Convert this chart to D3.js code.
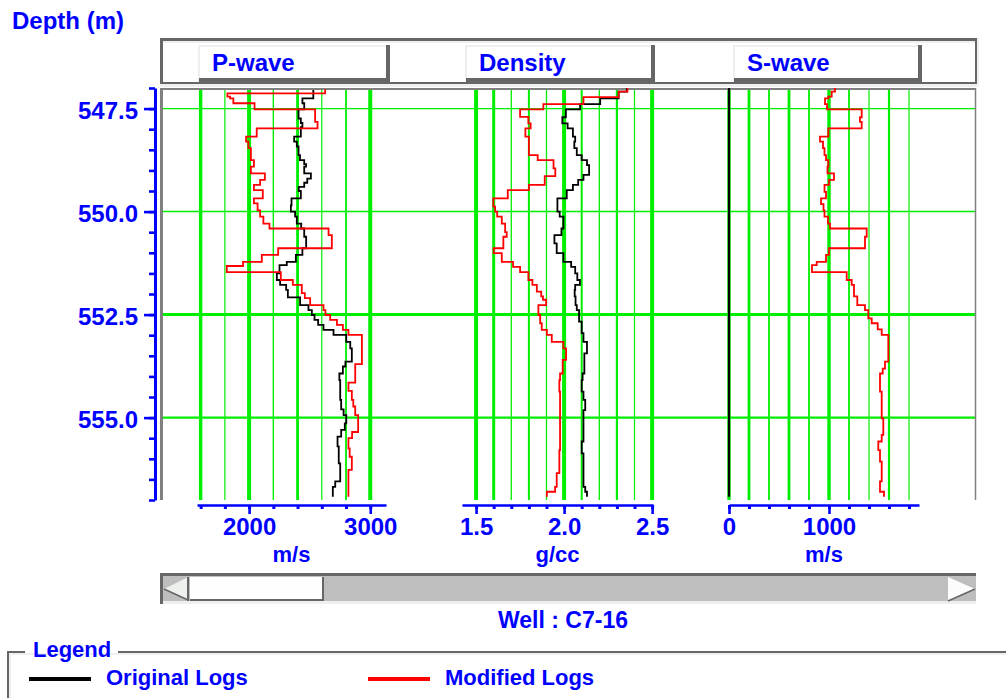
<!DOCTYPE html>
<html>
<head>
<meta charset="utf-8">
<script src="https://cdn.jsdelivr.net/npm/d3@7"></script>
<style>
  html, body { margin: 0; padding: 0; background: #ffffff; overflow: hidden; }
  svg { display: block; }
  text { font-family: "Liberation Sans", Arial, Helvetica, sans-serif; font-weight: bold; fill: #0000ff; }
</style>
</head>
<body>
<svg id="chart" width="1006" height="698"></svg>
<script>
// ---------------- Depth (m) ----------------
const depthExtent = [547.0, 557.0];
const depthTicks = [547.0, 547.5, 548.0, 548.5, 549.0, 549.5, 550.0, 550.5, 551.0, 551.5,
                    552.0, 552.5, 553.0, 553.5, 554.0, 554.5, 555.0, 555.5, 556.0, 556.5, 557.0];
const depthLabels = [547.5, 550.0, 552.5, 555.0];

// ---------------- P-wave velocity (m/s) ----------------
const pwaveExtent = [1570, 3130];
const pwaveTicks = [1600, 1800, 2000, 2200, 2400, 2600, 2800, 3000];
const pwaveLabels = [2000, 3000];
const pwaveOrigDepth = [547.05, 547.25, 547.37, 547.52, 547.74, 547.85, 547.95, 548.18, 548.30, 548.42,
  548.63, 548.75, 548.85, 548.91, 549.07, 549.20, 549.30, 549.40, 549.50, 549.68, 549.85, 550.00,
  550.12, 550.29, 550.41, 550.61, 550.89, 551.05, 551.22, 551.30, 551.50, 551.66, 551.78, 551.90,
  552.08, 552.27, 552.39, 552.51, 552.63, 552.75, 552.87, 552.99, 553.16, 553.32, 553.64, 553.76,
  553.93, 554.09, 554.57, 554.80, 554.94, 555.14, 555.30, 555.46, 555.70, 556.11, 556.55, 556.68, 556.92];
const pwaveOrig = [2530, 2440, 2455, 2408, 2427, 2440, 2427, 2372, 2394, 2408,
  2420, 2455, 2470, 2455, 2510, 2480, 2455, 2410, 2427, 2350, 2345, 2380,
  2394, 2430, 2455, 2471, 2440, 2386, 2311, 2251, 2229, 2256, 2306, 2320,
  2421, 2490, 2518, 2540, 2570, 2614, 2697, 2802, 2835, 2848, 2795, 2774,
  2745, 2752, 2760, 2780, 2802, 2790, 2760, 2730, 2740, 2752, 2711, 2691, 2691];
const pwaveModDepth = [547.03, 547.13, 547.21, 547.25, 547.37, 547.52, 547.82, 547.98, 548.18, 548.30,
  548.46, 548.75, 548.91, 549.07, 549.23, 549.35, 549.48, 549.68, 549.80, 549.97, 550.12, 550.29,
  550.41, 550.57, 550.89, 551.05, 551.22, 551.32, 551.47, 551.66, 551.78, 551.98, 552.10, 552.27,
  552.39, 552.51, 552.63, 552.75, 552.87, 552.99, 553.70, 554.15, 554.35, 554.57, 554.73, 554.94,
  555.35, 555.50, 555.75, 555.95, 556.27, 556.92];
const pwaveMod = [2628, 1821, 1843, 1870, 2045, 2545, 2565, 2063, 1975, 1994,
  2015, 2040, 2015, 2130, 2091, 2040, 2113, 2040, 2070, 2091, 2118, 2168,
  2656, 2683, 2240, 2105, 1950, 1816, 2262, 2361, 2435, 2460, 2504, 2614,
  2630, 2669, 2725, 2774, 2820, 2931, 2876, 2820, 2848, 2860, 2876, 2900,
  2850, 2820, 2830, 2848, 2820, 2820];

// ---------------- Density (g/cc) ----------------
const densityExtent = [1.42, 2.505];
const densityTicks = [1.5, 1.6, 1.7, 1.8, 1.9, 2.0, 2.1, 2.2, 2.3, 2.4, 2.5];
const densityLabels = [1.5, 2.0, 2.5];
const densityOrigDepth = [547.00, 547.09, 547.25, 547.39, 547.52, 547.71, 547.86, 547.98, 548.18, 548.30,
  548.46, 548.63, 548.75, 548.87, 549.11, 549.23, 549.35, 549.48, 549.68, 550.00, 550.12, 550.41,
  550.57, 550.77, 551.01, 551.22, 551.34, 551.50, 551.66, 551.78, 551.90, 552.06, 552.27, 552.39,
  552.67, 552.95, 553.16, 553.44, 553.93, 554.09, 554.37, 554.57, 554.82, 555.58, 555.87, 556.68,
  556.80, 556.92];
const densityOrig = [2.356, 2.31, 2.205, 2.091, 2.01, 1.99, 2.02, 2.05, 2.063, 2.058,
  2.072, 2.10, 2.13, 2.142, 2.11, 2.08, 2.05, 2.015, 1.962, 1.975, 1.996, 1.985,
  1.945, 1.958, 1.996, 2.04, 2.063, 2.075, 2.09, 2.063, 2.06, 2.065, 2.072, 2.085,
  2.10, 2.11, 2.13, 2.115, 2.105, 2.10, 2.11, 2.12, 2.11, 2.10, 2.11, 2.12,
  2.13, 2.13];
const densityModDepth = [547.00, 547.09, 547.22, 547.39, 547.52, 547.70, 547.86, 547.98, 548.18, 548.63,
  548.75, 548.95, 549.14, 549.35, 549.48, 549.68, 549.88, 550.00, 550.12, 550.29, 550.50, 550.61,
  550.89, 551.01, 551.22, 551.34, 551.47, 551.66, 551.78, 551.94, 552.06, 552.14, 552.27, 552.51,
  552.71, 552.87, 552.99, 553.16, 553.32, 553.60, 553.93, 554.09, 554.37, 555.79, 556.35, 556.68,
  556.80, 556.92];
const densityMod = [2.36, 2.31, 2.11, 1.882, 1.75, 1.797, 1.81, 1.78, 1.80, 1.85,
  1.94, 1.95, 1.89, 1.80, 1.68, 1.598, 1.608, 1.62, 1.646, 1.665, 1.674, 1.655,
  1.60, 1.646, 1.71, 1.75, 1.797, 1.82, 1.845, 1.87, 1.88, 1.898, 1.854, 1.864,
  1.873, 1.902, 1.93, 1.996, 2.011, 1.992, 1.977, 1.973, 1.977, 1.973, 1.958, 1.949,
  1.902, 1.902];

// ---------------- S-wave velocity (m/s) ----------------
const swaveExtent = [0, 1900];
const swaveTicks = [0, 200, 400, 600, 800, 1000, 1200, 1400, 1600, 1800];
const swaveLabels = [0, 1000];
const swaveOrigDepth = [547.0, 556.92];
const swaveOrig = [0, 0];
const swaveModDepth = [547.00, 547.09, 547.21, 547.25, 547.39, 547.52, 547.71, 547.82, 547.98, 548.18,
  548.30, 548.46, 548.63, 548.75, 548.91, 549.07, 549.23, 549.35, 549.52, 549.68, 549.82, 549.97,
  550.12, 550.29, 550.41, 550.61, 550.89, 551.05, 551.22, 551.30, 551.47, 551.66, 551.78, 551.90,
  552.06, 552.27, 552.39, 552.59, 552.71, 552.86, 552.99, 553.64, 553.81, 553.93, 554.37, 555.02,
  555.42, 555.58, 555.79, 556.07, 556.55, 556.80, 556.92];
const swaveMod = [1060, 1027, 993, 960, 980, 1327, 1310, 1327, 993, 910,
  940, 955, 970, 993, 985, 1050, 1000, 955, 970, 920, 945, 955,
  990, 1010, 1377, 1360, 1000, 970, 877, 830, 1177, 1227, 1250, 1250,
  1283, 1360, 1393, 1427, 1487, 1527, 1593, 1560, 1537, 1510, 1527, 1543,
  1527, 1493, 1510, 1527, 1510, 1550, 1550];

const wellName = "C7-16";

// ---------------- Drawing ----------------
const BLUE = "#0000ff", GREEN = "#00ee00", DARK = "#666666", LIGHT = "#edf0ed", FRAME = "#808080";
const FONT = "Liberation Sans, Arial, Helvetica, sans-serif";
const svg = d3.select("#chart");

const plot = { left: 160, right: 976, top: 88, bottom: 500 };
const y = d3.scaleLinear().domain(depthExtent).range([plot.top, plot.bottom]);

const tracks = [
  { title: "P-wave", unit: "m/s", extent: pwaveExtent, range: [197, 386], ticks: pwaveTicks,
    labels: pwaveLabels, fmt: d3.format("d"), button: [198, 390],
    orig: [pwaveOrigDepth, pwaveOrig], mod: [pwaveModDepth, pwaveMod],
    weight: { 1600: 3.4, 1800: 1.2, 2000: 4, 2200: 1.4, 2400: 2.8, 2600: 1.2, 2800: 1.8, 3000: 4 } },
  { title: "Density", unit: "g/cc", extent: densityExtent, range: [462, 653], ticks: densityTicks,
    labels: densityLabels, fmt: d3.format(".1f"), button: [465, 655],
    orig: [densityOrigDepth, densityOrig], mod: [densityModDepth, densityMod],
    weight: { 1.5: 4, 1.6: 3, 1.7: 1.3, 1.8: 2, 1.9: 1.3, 2.0: 4, 2.1: 2, 2.2: 1.3, 2.3: 2.2, 2.4: 1.2, 2.5: 4 } },
  { title: "S-wave", unit: "m/s", extent: swaveExtent, range: [729, 919], ticks: swaveTicks,
    labels: swaveLabels, fmt: d3.format("d"), button: [733, 922],
    orig: [swaveOrigDepth, swaveOrig], mod: [swaveModDepth, swaveMod],
    weight: { 0: 3.4, 200: 2.8, 400: 1.8, 600: 2.8, 800: 1.8, 1000: 3.4, 1200: 1.8, 1400: 1.2, 1600: 2.2, 1800: 1.2 } }
];
tracks.forEach(t => { t.x = d3.scaleLinear().domain(t.extent).range(t.range); });

// Title above the depth axis
svg.append("text").attr("x", 12).attr("y", 29).attr("font-size", 24).text("Depth (m)");

// Header panel with the track name buttons
const hdr = svg.append("g");
hdr.append("rect").attr("x", 160).attr("y", 38).attr("width", 817).attr("height", 48).attr("fill", "#ffffff");
hdr.append("rect").attr("x", 160).attr("y", 84).attr("width", 819).attr("height", 3).attr("fill", LIGHT);
hdr.append("rect").attr("x", 977).attr("y", 38).attr("width", 2).attr("height", 49).attr("fill", LIGHT);
hdr.append("rect").attr("x", 160).attr("y", 38).attr("width", 817).attr("height", 3).attr("fill", DARK);
hdr.append("rect").attr("x", 160).attr("y", 38).attr("width", 3).attr("height", 46).attr("fill", DARK);
hdr.append("rect").attr("x", 975).attr("y", 38).attr("width", 2).attr("height", 46).attr("fill", DARK);
hdr.append("rect").attr("x", 160).attr("y", 82).attr("width", 817).attr("height", 2).attr("fill", DARK);
hdr.append("rect").attr("x", 163).attr("y", 41).attr("width", 812).attr("height", 2).attr("fill", LIGHT);

tracks.forEach(t => {
  const [bx0, bx1] = t.button;
  const b = hdr.append("g");
  b.append("rect").attr("x", bx0).attr("y", 45).attr("width", bx1 - bx0).attr("height", 37).attr("fill", "#ffffff");
  b.append("rect").attr("x", bx0).attr("y", 45).attr("width", bx1 - bx0).attr("height", 2).attr("fill", LIGHT);
  b.append("rect").attr("x", bx0).attr("y", 45).attr("width", 2).attr("height", 37).attr("fill", LIGHT);
  b.append("rect").attr("x", bx1 - 4).attr("y", 45).attr("width", 4).attr("height", 37).attr("fill", DARK);
  b.append("rect").attr("x", bx0 + 1).attr("y", 78).attr("width", bx1 - bx0 - 1).attr("height", 4).attr("fill", DARK);
  b.append("text").attr("x", bx0 + 14).attr("y", 71).attr("font-size", 24).text(t.title);
});

// Plot area: vertical grid per track
const grid = svg.append("g");
tracks.forEach(t => {
  grid.selectAll(null).data(t.ticks).join("line")
    .attr("x1", d => t.x(d)).attr("x2", d => t.x(d))
    .attr("y1", plot.top).attr("y2", plot.bottom)
    .attr("stroke", GREEN).attr("stroke-width", d => t.weight[d] || 1.5);
});

// Horizontal depth grid across the whole plot
const hWeight = { 547.5: 1.2, 550: 1.5, 552.5: 3, 555: 2.4 };
grid.selectAll(null).data(depthLabels).join("line")
  .attr("x1", plot.left + 3).attr("x2", plot.right - 1)
  .attr("y1", d => y(d)).attr("y2", d => y(d))
  .attr("stroke", GREEN).attr("stroke-width", d => hWeight[d] || 1.5);

// Plot frame
svg.append("line").attr("x1", plot.left).attr("x2", plot.right).attr("y1", 89).attr("y2", 89)
  .attr("stroke", FRAME).attr("stroke-width", 2);
svg.append("line").attr("x1", 161.5).attr("x2", 161.5).attr("y1", 88).attr("y2", plot.bottom)
  .attr("stroke", FRAME).attr("stroke-width", 3);
svg.append("line").attr("x1", 975.5).attr("x2", 975.5).attr("y1", 88).attr("y2", plot.bottom)
  .attr("stroke", FRAME).attr("stroke-width", 1.5);

// Log curves (step plots: a value holds down to the next depth sample)
const curves = svg.append("g");
tracks.forEach(t => {
  const line = d3.line()
    .x(d => t.x(d[1]))
    .y(d => y(d[0]))
    .curve(d3.curveStepBefore);
  curves.append("path").datum(d3.zip(t.orig[0], t.orig[1]))
    .attr("d", line).attr("fill", "none").attr("stroke", "#000000")
    .attr("stroke-width", t.title === "S-wave" ? 2.2 : 1.8);
  curves.append("path").datum(d3.zip(t.mod[0], t.mod[1]))
    .attr("d", line).attr("fill", "none").attr("stroke", "#ff0000").attr("stroke-width", 1.8);
});

// Depth axis
function styleAxis(g) {
  g.attr("font-family", FONT).attr("font-weight", "bold").attr("font-size", 24).attr("color", BLUE);
}
const yAxisMinor = svg.append("g").attr("transform", "translate(155,0)")
  .call(d3.axisLeft(y).tickValues(depthTicks).tickSize(6).tickSizeOuter(0).tickFormat(""));
yAxisMinor.call(styleAxis);
yAxisMinor.select(".domain").attr("stroke-width", 3);
yAxisMinor.selectAll(".tick line").attr("stroke-width", 2.6);

const yAxisMajor = svg.append("g").attr("transform", "translate(155,0)")
  .call(d3.axisLeft(y).tickValues(depthLabels).tickSize(11).tickPadding(6).tickFormat(d3.format(".1f")));
yAxisMajor.call(styleAxis);
yAxisMajor.select(".domain").remove();
yAxisMajor.selectAll(".tick line").attr("stroke-width", 2.6);
yAxisMajor.selectAll(".tick text").attr("dy", "0.42em");

// Bottom value axes for each track
tracks.forEach(t => {
  const gMinor = svg.append("g").attr("transform", "translate(0,505)")
    .call(d3.axisBottom(t.x).tickValues(t.ticks).tickSize(4).tickSizeOuter(0).tickFormat(""));
  gMinor.call(styleAxis);
  gMinor.select(".domain").attr("stroke-width", 2.5);
  gMinor.selectAll(".tick line").attr("stroke-width", 3);

  const gMajor = svg.append("g").attr("transform", "translate(0,505)")
    .call(d3.axisBottom(t.x).tickValues(t.labels).tickSize(9).tickPadding(4).tickFormat(t.fmt));
  gMajor.call(styleAxis);
  gMajor.select(".domain").remove();
  gMajor.selectAll(".tick line").attr("stroke-width", 2.6);

  svg.append("text").attr("x", (t.range[0] + t.range[1]) / 2).attr("y", 562)
    .attr("text-anchor", "middle").attr("font-size", 22).text(t.unit);
});

// Horizontal scrollbar
const sb = svg.append("g");
sb.append("rect").attr("x", 160).attr("y", 573).attr("width", 816).attr("height", 31).attr("fill", "#bebebe");
sb.append("rect").attr("x", 160).attr("y", 573).attr("width", 816).attr("height", 3).attr("fill", DARK);
sb.append("rect").attr("x", 160).attr("y", 573).attr("width", 3).attr("height", 31).attr("fill", DARK);
sb.append("rect").attr("x", 163).attr("y", 601).attr("width", 813).attr("height", 3).attr("fill", LIGHT);
// left arrow
sb.append("polygon").attr("points", "164,589 188,577 188,600").attr("fill", LIGHT);
sb.append("line").attr("x1", 164).attr("y1", 589).attr("x2", 188).attr("y2", 600)
  .attr("stroke", DARK).attr("stroke-width", 1.5);
sb.append("line").attr("x1", 188).attr("y1", 577).attr("x2", 188).attr("y2", 601)
  .attr("stroke", DARK).attr("stroke-width", 2);
// thumb
sb.append("rect").attr("x", 190).attr("y", 577).attr("width", 134).attr("height", 24).attr("fill", "#fdfefd");
sb.append("rect").attr("x", 322).attr("y", 577).attr("width", 2).attr("height", 24).attr("fill", DARK);
sb.append("rect").attr("x", 190).attr("y", 599).attr("width", 134).attr("height", 2).attr("fill", DARK);
// right arrow
sb.append("polygon").attr("points", "948,577 975,589 948,601").attr("fill", "#fbfcfb");
sb.append("line").attr("x1", 948).attr("y1", 601).attr("x2", 975).attr("y2", 589)
  .attr("stroke", DARK).attr("stroke-width", 1.5);

// Well name
svg.append("text").attr("x", 563).attr("y", 628).attr("text-anchor", "middle")
  .attr("font-size", 23).text("Well : " + wellName);

// Legend frame and entries
const lg = svg.append("g");
lg.append("rect").attr("x", 7).attr("y", 651).attr("width", 18).attr("height", 2).attr("fill", DARK);
lg.append("rect").attr("x", 118).attr("y", 651).attr("width", 888).attr("height", 2).attr("fill", DARK);
lg.append("rect").attr("x", 7).attr("y", 651).attr("width", 2).attr("height", 47).attr("fill", DARK);
lg.append("rect").attr("x", 9).attr("y", 653).attr("width", 2).attr("height", 45).attr("fill", LIGHT);
lg.append("rect").attr("x", 9).attr("y", 653).attr("width", 997).attr("height", 2).attr("fill", LIGHT);
lg.append("text").attr("x", 33).attr("y", 657).attr("font-size", 22).text("Legend");

const legendItems = [
  { label: "Original Logs", color: "#000000", x: 29 },
  { label: "Modified Logs", color: "#ff0000", x: 368 }
];
legendItems.forEach(it => {
  lg.append("line").attr("x1", it.x).attr("x2", it.x + 62).attr("y1", 679).attr("y2", 679)
    .attr("stroke", it.color).attr("stroke-width", 4);
  lg.append("text").attr("x", it.x + 77).attr("y", 685).attr("font-size", 22).text(it.label);
});
</script>
</body>
</html>
